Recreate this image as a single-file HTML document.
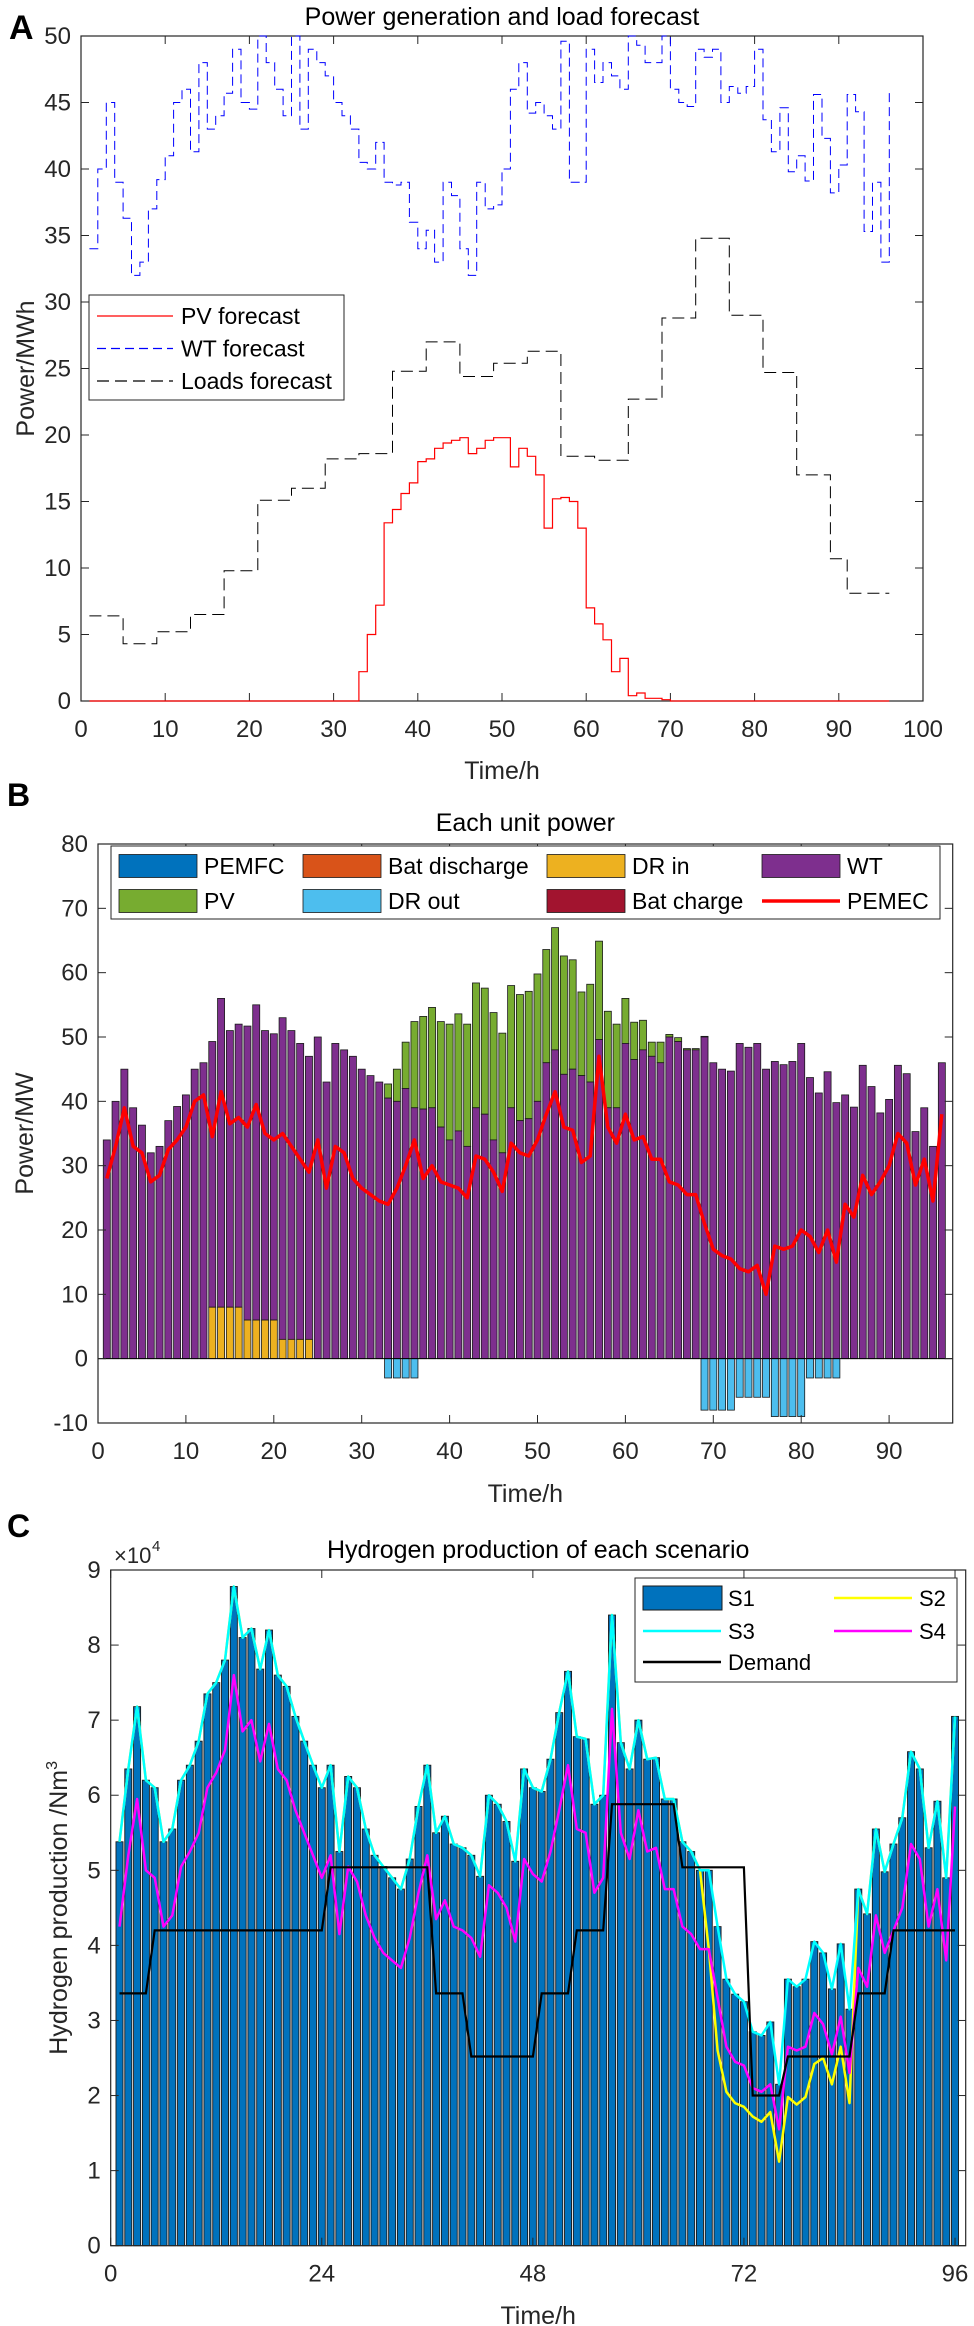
<!DOCTYPE html>
<html><head><meta charset="utf-8"><title>Power and hydrogen charts</title>
<style>
html,body{margin:0;padding:0;background:#fff;}
svg{display:block;font-family:"Liberation Sans",Arial,sans-serif;}
</style></head>
<body>
<svg id="chart" xmlns="http://www.w3.org/2000/svg" width="974" height="2326" viewBox="0 0 974 2326">
<rect x="0" y="0" width="974" height="2326" fill="#fff"/>
</svg>
<script>
// ---------- Panel A data ----------
const hoursA = [1,2,3,4,5,6,7,8,9,10,11,12,13,14,15,16,17,18,19,20,21,22,23,24,25,26,27,28,29,30,31,32,33,34,35,36,37,38,39,40,41,42,43,44,45,46,47,48,49,50,51,52,53,54,55,56,57,58,59,60,61,62,63,64,65,66,67,68,69,70,71,72,73,74,75,76,77,78,79,80,81,82,83,84,85,86,87,88,89,90,91,92,93,94,95,96];
const pvForecast = [0,0,0,0,0,0,0,0,0,0,0,0,0,0,0,0,0,0,0,0,0,0,0,0,0,0,0,0,0,0,0,0,
 2.2,5,7.2,13.4,14.4,15.6,16.4,18,18.2,19,19.4,19.6,19.8,18.6,19,19.6,19.8,19.8,17.6,19,18.4,17,13,15.2,15.3,15,13,7,5.8,4.6,2.2,3.2,0.4,0.6,0.2,0.2,0.1,
 0,0,0,0,0,0,0,0,0,0,0,0,0,0,0,0,0,0,0,0,0,0,0,0,0,0,0];
const wtForecast = [34,40,45,39,36.3,32,33,37,39.2,41,45,46,
 41.3,48,43,44,45.7,49,45,44.5,50,48,46,44,
 50,43,49,48,47,45,44,43,
 40.5,40,42,39,38.8,39,36,34,35.4,33,39,38,34,32,39,37,
 37.3,40,46,48,44.2,45,44,43,49.6,39,39,49,46.5,48,47,46,
 50,49.3,48,48,50,46,45,44.7,49,48.4,49,45,46.2,45.7,46.2,49,
 43.7,41.3,44.6,39.8,41,39.1,45.6,42.3,38.2,40.3,45.6,44.3,35.3,39,33,46];
const loadHours = [1,5,9,13,17,21,25,29,33,37,41,45,49,53,57,61,65,69,73,77,81,85,89,91,96];
const loadForecast = [6.4,4.3,5.2,6.5,9.8,15.1,16,18.2,18.6,24.8,27,24.4,25.4,26.3,18.4,18.1,22.7,28.8,34.8,29,24.7,17,10.7,8.1];
const ticksA_x = [0,10,20,30,40,50,60,70,80,90,100];
const ticksA_y = [0,5,10,15,20,25,30,35,40,45,50];

// ---------- Panel B data ----------
const drIn = [0,0,0,0,0,0,0,0,0,0,0,0,8,8,8,8,6,6,6,6,3,3,3,3,0,0,0,0,0,0,0,0,0,0,0,0,0,0,0,0,0,0,0,0,0,0,0,0,0,0,0,0,0,0,0,0,0,0,0,0,0,0,0,0,0,0,0,0,0,0,0,0,0,0,0,0,0,0,0,0,0,0,0,0,0,0,0,0,0,0,0,0,0,0,0,0];
const drOut = [0,0,0,0,0,0,0,0,0,0,0,0,0,0,0,0,0,0,0,0,0,0,0,0,0,0,0,0,0,0,0,0,-3,-3,-3,-3,0,0,0,0,0,0,0,0,0,0,0,0,0,0,0,0,0,0,0,0,0,0,0,0,0,0,0,0,0,0,0,0,-8,-8,-8,-8,-6,-6,-6,-6,-9,-9,-9,-9,-3,-3,-3,-3,0,0,0,0,0,0,0,0,0,0,0,0];
const pemec = [28,33,39,33,32,27.5,28.5,32.5,34,36,40,41,34.5,41.5,36.5,37.5,36,39.5,35,34,35,33,31,29,
 34,26.5,33,32,28,26.5,25.5,24.5,24,26.5,30,34,28,30,27.5,27,26.5,25,31.5,31,29,26,33.5,32,
 31.5,34,38,41.5,36,35.5,30.5,31.5,47,36,33.5,38,34,34.5,31,31,27.5,27,25.5,25.5,21,17,16,15.5,
 14,13.5,14.5,10,17.5,17,17.5,20,19,16.5,20,15,24,22,28.5,25.5,27.5,30,35,33.5,27,31,24.5,38];
const ticksB_x = [0,10,20,30,40,50,60,70,80,90];
const ticksB_y = [-10,0,10,20,30,40,50,60,70,80];

// ---------- Panel C data (x10^4 Nm3) ----------
const s1 = [5.38,6.35,7.18,6.2,6.1,5.38,5.55,6.2,6.4,6.72,7.35,7.5,7.8,8.78,8.1,8.22,7.68,8.2,7.6,7.45,7.05,6.72,6.4,6.1,
 6.4,5.25,6.25,6.1,5.55,5.2,5.05,4.9,4.75,5.15,5.85,6.4,5.5,5.72,5.35,5.3,5.2,4.92,6.0,5.88,5.65,5.12,6.35,6.1,
 6.05,6.48,7.1,7.65,6.78,6.75,5.88,6.0,8.4,6.7,6.35,7.0,6.48,6.5,5.95,5.95,5.38,5.25,5.0,5.0,4.25,3.55,3.35,3.25,
 2.85,2.8,2.98,2.15,3.55,3.45,3.55,4.05,3.9,3.42,4.02,3.15,4.75,4.42,5.55,4.98,5.35,5.7,6.58,6.35,5.3,5.92,4.9,7.05];
const s3 = [5.38,6.35,7.18,6.2,6.1,5.38,5.55,6.2,6.4,6.72,7.35,7.5,7.8,8.78,8.1,8.22,7.68,8.2,7.6,7.45,7.05,6.72,6.4,6.1,
 6.4,5.25,6.25,6.1,5.55,5.2,5.05,4.9,4.75,5.15,5.85,6.4,5.5,5.72,5.35,5.3,5.2,4.92,6.0,5.88,5.65,5.12,6.35,6.1,
 6.05,6.48,7.1,7.65,6.78,6.75,5.88,6.0,8.4,6.7,6.35,7.0,6.48,6.5,5.95,5.95,5.38,5.25,5.0,5.0,4.25,3.55,3.35,3.25,
 2.85,2.8,2.98,2.15,3.55,3.45,3.55,4.05,3.9,3.42,4.02,3.15,4.75,4.42,5.55,4.98,5.35,5.7,6.58,6.35,5.3,5.92,4.9,7.05];
const s2 = [5.38,6.35,7.18,6.2,6.1,5.38,5.55,6.2,6.4,6.72,7.35,7.5,7.8,8.78,8.1,8.22,7.68,8.2,7.6,7.45,7.05,6.72,6.4,6.1,
 6.4,5.25,6.25,6.1,5.55,5.2,5.05,4.9,4.75,5.15,5.85,6.4,5.5,5.72,5.35,5.3,5.2,4.92,6.0,5.88,5.65,5.12,6.35,6.1,
 6.05,6.48,7.1,7.65,6.78,6.75,5.88,6.0,8.4,6.7,6.35,7.0,6.48,6.5,5.95,5.95,5.38,5.25,5.0,3.95,2.6,2.05,1.9,1.85,
 1.72,1.65,1.78,1.12,1.98,1.88,1.98,2.42,2.5,2.15,2.65,1.9,4.75,4.42,5.55,4.98,5.35,5.7,6.58,6.35,5.3,5.92,4.9,7.05];
const s4 = [4.25,5.2,5.95,5.0,4.9,4.25,4.4,5.05,5.25,5.5,6.1,6.3,6.6,7.6,6.85,7.0,6.45,6.95,6.35,6.2,5.8,5.5,5.2,4.9,
 5.2,4.15,5.05,4.85,4.4,4.1,3.9,3.8,3.7,4.1,4.7,5.2,4.35,4.6,4.25,4.2,4.1,3.85,4.8,4.7,4.5,4.05,5.15,4.95,
 4.85,5.25,5.8,6.4,5.55,5.5,4.7,4.9,7.15,5.5,5.15,5.8,5.25,5.3,4.75,4.75,4.25,4.15,3.95,3.95,3.3,2.65,2.45,2.4,
 2.1,2.05,2.15,1.55,2.65,2.6,2.65,3.1,2.95,2.55,3.05,2.3,3.7,3.45,4.4,3.9,4.2,4.5,5.35,5.15,4.25,4.75,3.8,5.85];
const demandBlocks = [3.36,4.2,4.2,4.2,4.2,4.2,5.04,5.04,5.04,3.36,2.52,2.52,3.36,4.2,5.88,5.88,5.04,5.04,2.0,2.52,2.52,3.36,4.2,4.2];
const ticksC_x = [0,24,48,72,96];
const ticksC_y = [0,1,2,3,4,5,6,7,8,9];

// ---------- helpers ----------
const NS = 'http://www.w3.org/2000/svg';
const svg = document.getElementById('chart');
function mk(tag, attrs, parent) {
  const e = document.createElementNS(NS, tag);
  for (const k in attrs) e.setAttribute(k, attrs[k]);
  (parent || svg).appendChild(e);
  return e;
}
function txt(s, attrs, parent) { const e = mk('text', attrs, parent); e.textContent = s; return e; }
const AX = '#262626';

function axesFrame(g, L, T, R, B, xt, yt, xs, ys, labelSize) {
  const ticks = mk('g', {stroke: AX, 'stroke-width': 1}, g);
  
  
  xt.forEach(v => {
    const x = xs(v);
    mk('line', {x1: x, x2: x, y1: B, y2: B - 8}, ticks);
    mk('line', {x1: x, x2: x, y1: T, y2: T + 8}, ticks);
    const t = txt(String(v), {x: x, y: B + 36, 'font-size': labelSize, 'text-anchor': 'middle', fill: '#262626'}, g);
    
    
  });
  yt.forEach(v => {
    const y = ys(v);
    mk('line', {x1: L, x2: L + 8, y1: y, y2: y}, ticks);
    mk('line', {x1: R, x2: R - 8, y1: y, y2: y}, ticks);
    const t = txt(String(v), {x: L - 10, y: y + 8, 'font-size': labelSize, 'text-anchor': 'end', fill: '#262626'}, g);
    
    
  });
  const box = mk('rect', {x: L, y: T, width: R - L, height: B - T, fill: 'none', stroke: AX, 'stroke-width': 1.2}, g);
  
  
}
function stairsPath(xsArr, vals, endX, xs, ys) {
  let d = '';
  for (let i = 0; i < vals.length; i++) {
    const x0 = xs(xsArr[i]);
    const x1 = xs(i + 1 < xsArr.length ? xsArr[i + 1] : endX);
    const y = ys(vals[i]);
    d += (i === 0 ? 'M' : 'L') + x0.toFixed(1) + ',' + y.toFixed(1) + 'L' + x1.toFixed(1) + ',' + y.toFixed(1);
  }
  return d;
}

// ================= Panel A =================
(function () {
  const L = 81, T = 36, R = 923, B = 701;
  const xs = v => L + v * (R - L) / 100;
  const ys = v => B - v * (B - T) / 50;
  const g = mk('g', {});
  
  
  const pl = txt('A', {x: 9, y: 39, 'font-size': 34, 'font-weight': 'bold', fill: '#000'}, g);
  
  
  const ti = txt('Power generation and load forecast', {x: (L + R) / 2, y: 25, 'font-size': 25, 'text-anchor': 'middle', fill: '#000'}, g);
  
  
  axesFrame(g, L, T, R, B, ticksA_x, ticksA_y, xs, ys, 24);
  const xl = txt('Time/h', {x: (L + R) / 2, y: 779, 'font-size': 25, 'text-anchor': 'middle', fill: '#262626'}, g);
  
  
  const yl = txt('Power/MWh', {x: 0, y: 0, 'font-size': 25, 'text-anchor': 'middle', fill: '#262626', transform: 'translate(34,' + (T + B) / 2 + ') rotate(-90)'}, g);
  
  

  const wt = mk('path', {d: stairsPath(hoursA, wtForecast, 96, xs, ys), fill: 'none', stroke: '#0000ff', 'stroke-width': 1, 'stroke-dasharray': '9,5'}, g);
  
  
  const ld = mk('path', {d: stairsPath(loadHours.slice(0, -1), loadForecast, 96, xs, ys), fill: 'none', stroke: '#000', 'stroke-width': 1, 'stroke-dasharray': '12,6'}, g);
  
  
  const pv = mk('path', {d: stairsPath(hoursA, pvForecast, 96, xs, ys), fill: 'none', stroke: '#ff0000', 'stroke-width': 1.2}, g);
  
  

  const lg = mk('g', {}, g);
  
  
  mk('rect', {x: 89, y: 295, width: 255, height: 105, fill: '#fff', stroke: AX, 'stroke-width': 1}, lg);
  const items = [['PV forecast', '#ff0000', ''], ['WT forecast', '#0000ff', '9,5'], ['Loads forecast', '#000', '12,6']];
  items.forEach((it, i) => {
    const y = 316 + i * 32.5;
    const e = mk('g', {}, lg);
    
    
    mk('line', {x1: 97, x2: 173, y1: y, y2: y, stroke: it[1], 'stroke-width': 1.2, 'stroke-dasharray': it[2]}, e);
    txt(it[0], {x: 181, y: y + 8, 'font-size': 23, fill: '#000'}, e);
  });
})();

// ================= Panel B =================
(function () {
  const L = 98, T = 844, R = 952.7, B = 1423;
  const xs = v => L + v * 8.79;
  const ys = v => B - (v + 10) * (B - T) / 90;
  const g = mk('g', {});
  
  
  const pl = txt('B', {x: 7, y: 806, 'font-size': 32, 'font-weight': 'bold', fill: '#000'}, g);
  
  
  const ti = txt('Each unit power', {x: (L + R) / 2, y: 831, 'font-size': 25, 'text-anchor': 'middle', fill: '#000'}, g);
  
  

  const bw = 0.8 * 8.79;
  const bars = mk('g', {stroke: '#1a1a1a', 'stroke-width': 0.8}, g);
  
  
  hoursA.forEach((h, i) => {
    const x = xs(h) - bw / 2;
    const base = drIn[i];
    const top = base + wtForecast[i];
    const ptop = top + pvForecast[i];
    if (pvForecast[i] > 0) {
      const b = mk('rect', {x: x, y: ys(ptop), width: bw, height: ys(top) - ys(ptop), fill: '#77AC30'}, bars);
      
      
    }
    const w = mk('rect', {x: x, y: ys(top), width: bw, height: ys(base) - ys(top), fill: '#7E2F8E'}, bars);
    
    
    if (drIn[i] > 0) {
      const d = mk('rect', {x: x, y: ys(drIn[i]), width: bw, height: ys(0) - ys(drIn[i]), fill: '#EDB120'}, bars);
      
      
    }
    if (drOut[i] < 0) {
      const o = mk('rect', {x: x, y: ys(0), width: bw, height: ys(drOut[i]) - ys(0), fill: '#4DBEEE'}, bars);
      
      
    }
  });
  const zl = mk('line', {x1: L, x2: R, y1: ys(0), y2: ys(0), stroke: '#000', 'stroke-width': 1}, g);
  
  
  const line = mk('polyline', {points: hoursA.map((h, i) => xs(h).toFixed(1) + ',' + ys(pemec[i]).toFixed(1)).join(' '), fill: 'none', stroke: '#ff0000', 'stroke-width': 3.5, 'stroke-linejoin': 'round'}, g);
  
  

  axesFrame(g, L, T, R, B, ticksB_x, ticksB_y, xs, ys, 24);
  const xl = txt('Time/h', {x: (L + R) / 2, y: 1502, 'font-size': 25, 'text-anchor': 'middle', fill: '#262626'}, g);
  
  
  const yl = txt('Power/MW', {x: 0, y: 0, 'font-size': 25, 'text-anchor': 'middle', fill: '#262626', transform: 'translate(33,' + (T + B) / 2 + ') rotate(-90)'}, g);
  
  

  const lg = mk('g', {}, g);
  
  
  mk('rect', {x: 111, y: 846, width: 829, height: 73, fill: '#fff', stroke: AX, 'stroke-width': 1}, lg);
  const entries = [
    ['PEMFC', '#0072BD', 0, 0], ['Bat discharge', '#D95319', 1, 0], ['DR in', '#EDB120', 2, 0], ['WT', '#7E2F8E', 3, 0],
    ['PV', '#77AC30', 0, 1], ['DR out', '#4DBEEE', 1, 1], ['Bat charge', '#A2142F', 2, 1], ['PEMEC', 'line', 3, 1]];
  const colX = [119, 303, 547, 762];
  entries.forEach(en => {
    const x = colX[en[2]], y = 866 + en[3] * 35;
    const e = mk('g', {}, lg);
    
    
    if (en[1] === 'line') mk('line', {x1: x, x2: x + 78, y1: y, y2: y, stroke: '#ff0000', 'stroke-width': 3.5}, e);
    else mk('rect', {x: x, y: y - 11.5, width: 78, height: 23, fill: en[1], stroke: '#1a1a1a', 'stroke-width': 0.8}, e);
    txt(en[0], {x: x + 85, y: y + 8, 'font-size': 23, fill: '#000'}, e);
  });
})();

// ================= Panel C =================
(function () {
  const L = 110.7, T = 1570, R = 965.7, B = 2245.7;
  const xs = v => L + v * 8.795;
  const ys = v => B - v * (B - T) / 9;
  const g = mk('g', {});
  
  
  const pl = txt('C', {x: 7, y: 1537, 'font-size': 32, 'font-weight': 'bold', fill: '#000'}, g);
  
  
  const ti = txt('Hydrogen production of each scenario', {x: (L + R) / 2, y: 1558, 'font-size': 25, 'text-anchor': 'middle', fill: '#000'}, g);
  
  
  const ex = txt('\u00d710', {x: 114, y: 1563, 'font-size': 22, fill: '#262626'}, g);
  
  
  const ex2 = txt('4', {x: 152, y: 1551, 'font-size': 15, fill: '#262626'}, g);
  
  

  const bw = 0.8 * 8.795;
  const bars = mk('g', {stroke: '#1a1a1a', 'stroke-width': 0.9, fill: '#0072BD'}, g);
  
  
  hoursA.forEach((h, i) => {
    const b = mk('rect', {x: xs(h) - bw / 2, y: ys(s1[i]), width: bw, height: ys(0) - ys(s1[i])}, bars);
    
    
  });
  function poly(vals, color, w) {
    return mk('polyline', {points: hoursA.map((h, i) => xs(h).toFixed(1) + ',' + ys(vals[i]).toFixed(1)).join(' '), fill: 'none', stroke: color, 'stroke-width': w, 'stroke-linejoin': 'round'}, g);
  }
  const l2 = poly(s2, '#ffff00', 2.5);
  
  
  const l3 = poly(s3, '#00ffff', 2.5);
  
  
  const l4 = poly(s4, '#ff00ff', 2.5);
  
  
  const dem = mk('polyline', {points: hoursA.map(h => xs(h).toFixed(1) + ',' + ys(demandBlocks[Math.floor((h - 1) / 4)]).toFixed(1)).join(' '), fill: 'none', stroke: '#000', 'stroke-width': 2.2}, g);
  
  

  axesFrame(g, L, T, R, B, ticksC_x, ticksC_y, xs, ys, 24);
  const xl = txt('Time/h', {x: (L + R) / 2, y: 2324, 'font-size': 25, 'text-anchor': 'middle', fill: '#262626'}, g);
  
  
  const yl = mk('text', {x: 0, y: 0, 'font-size': 25, 'text-anchor': 'middle', fill: '#262626', transform: 'translate(67,' + (T + B) / 2 + ') rotate(-90)'}, g);
  yl.textContent = 'Hydrogen production /Nm';
  const sup = mk('tspan', {dy: -10, 'font-size': 16}, yl);
  sup.textContent = '3';
  
  

  const lg = mk('g', {}, g);
  
  
  mk('rect', {x: 635, y: 1578, width: 322, height: 104, fill: '#fff', stroke: AX, 'stroke-width': 1}, lg);
  const items = [['S1', 'bar', 643, 1598], ['S2', '#ffff00', 834, 1598], ['S3', '#00ffff', 643, 1631], ['S4', '#ff00ff', 834, 1631], ['Demand', '#000', 643, 1662]];
  items.forEach(it => {
    const e = mk('g', {}, lg);
    
    
    if (it[1] === 'bar') mk('rect', {x: it[2], y: it[3] - 12, width: 79, height: 24, fill: '#0072BD', stroke: '#1a1a1a', 'stroke-width': 1}, e);
    else mk('line', {x1: it[2], x2: it[2] + 78, y1: it[3], y2: it[3], stroke: it[1], 'stroke-width': 2.5}, e);
    txt(it[0], {x: it[2] + 85, y: it[3] + 8, 'font-size': 22, fill: '#000'}, e);
  });
})();
</script>
</body></html>
